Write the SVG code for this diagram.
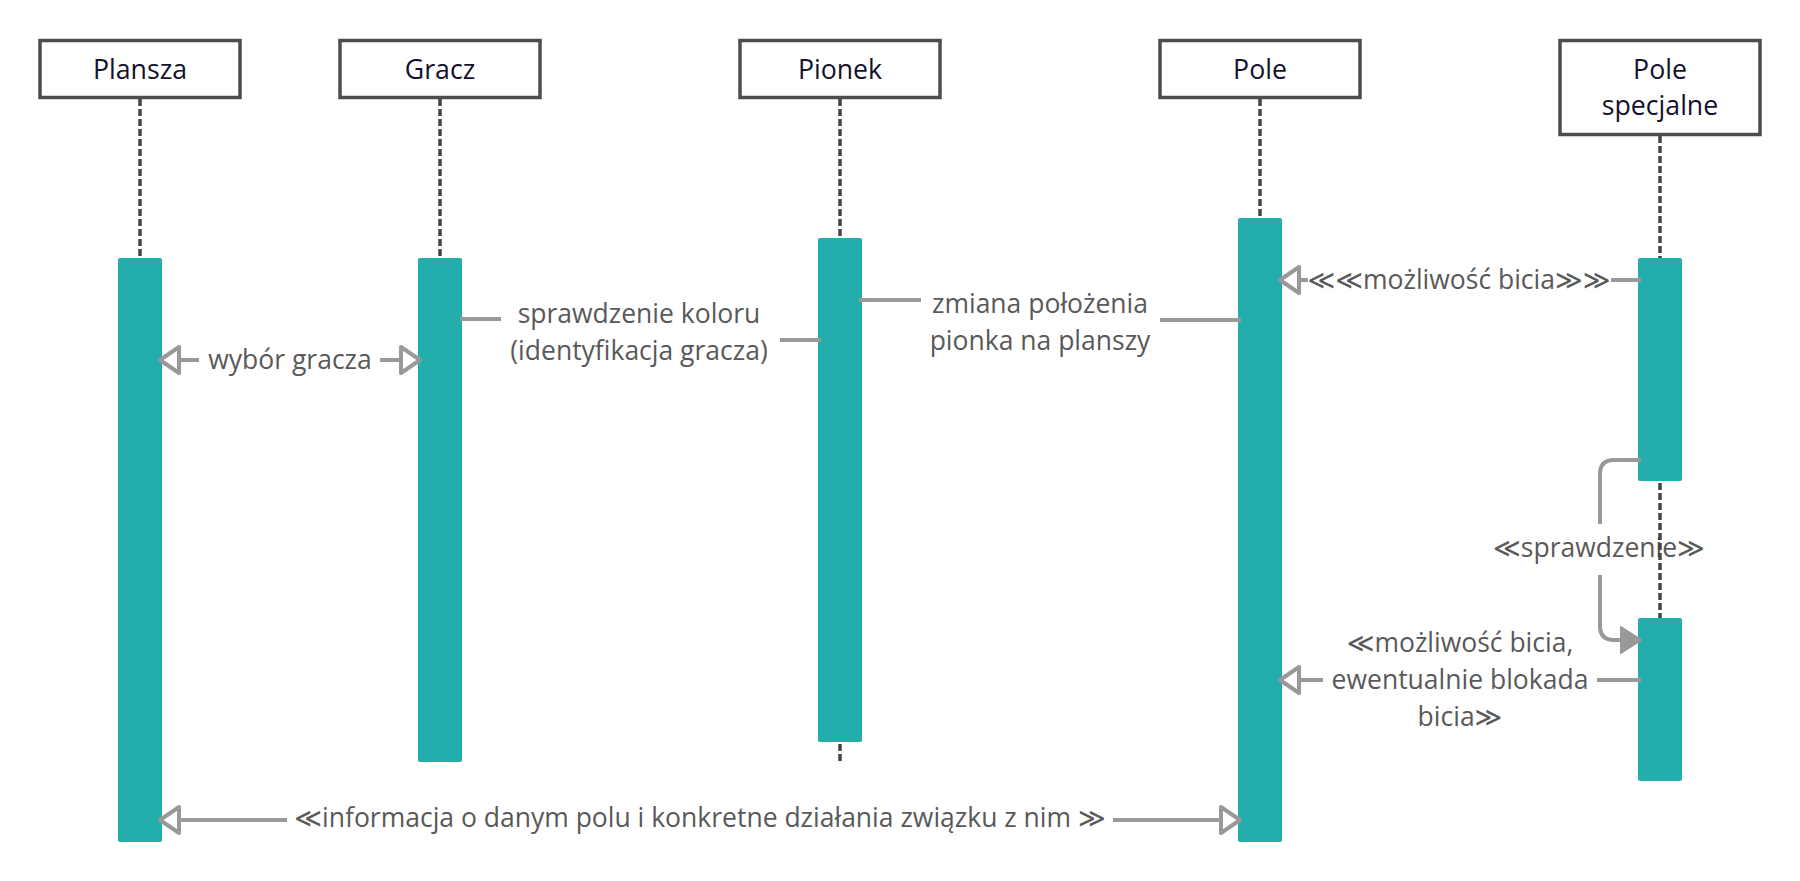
<svg xmlns="http://www.w3.org/2000/svg" width="1800" height="881" viewBox="0 0 1800 881">
  <style>
    .box { fill: #ffffff; stroke: #4d4d4d; stroke-width: 3.5; }
    .life { stroke: #454545; stroke-width: 3.5; stroke-dasharray: 7 3; fill: none; }
    .bar { fill: #23aeac; }
    .ntext { font-family: "Open Sans", "Liberation Sans", sans-serif; font-size: 26.7px; fill: #12122c; text-anchor: middle; }
    .ltext { font-family: "Open Sans", "DejaVu Sans", sans-serif; font-size: 26.5px; fill: #595959; text-anchor: middle; }
    .conn { stroke: #999999; stroke-width: 4; fill: none; stroke-linejoin: round; }
  </style>
  <defs>
    <marker id="hollow" viewBox="-4 -17 27 34" refX="19" refY="0" markerWidth="27" markerHeight="34" markerUnits="userSpaceOnUse" orient="auto">
      <path d="M0,-13 L19,0 L0,13 Z" fill="#ffffff" stroke="#999999" stroke-width="4" stroke-linejoin="round"/>
    </marker>
    <marker id="filled" viewBox="-4 -17 27 34" refX="20" refY="0" markerWidth="27" markerHeight="34" markerUnits="userSpaceOnUse" orient="auto">
      <path d="M0,-13 L20,0 L0,13 Z" fill="#999999" stroke="#999999" stroke-width="2" stroke-linejoin="round"/>
    </marker>
  </defs>
  <rect width="1800" height="881" fill="#ffffff"/>

  <g id="plansza">
    <rect class="box" x="40" y="40.5" width="200" height="57"/>
    <text class="ntext" x="140" y="78.5">Plansza</text>
    <line class="life" x1="140" y1="99" x2="140" y2="258"/>
    <rect class="bar" x="118" y="258" width="44" height="584" rx="2"/>
  </g>

  <g id="gracz">
    <rect class="box" x="340" y="40.5" width="200" height="57"/>
    <text class="ntext" x="440" y="78.5">Gracz</text>
    <line class="life" x1="440" y1="99" x2="440" y2="258"/>
    <rect class="bar" x="418" y="258" width="44" height="504" rx="2"/>
  </g>

  <g id="pionek">
    <rect class="box" x="740" y="40.5" width="200" height="57"/>
    <text class="ntext" x="840" y="78.5">Pionek</text>
    <line class="life" x1="840" y1="99" x2="840" y2="238"/>
    <line class="life" x1="840" y1="744" x2="840" y2="762"/>
    <rect class="bar" x="818" y="238" width="44" height="504" rx="2"/>
  </g>

  <g id="pole">
    <rect class="box" x="1160" y="40.5" width="200" height="57"/>
    <text class="ntext" x="1260" y="78.5">Pole</text>
    <line class="life" x1="1260" y1="99" x2="1260" y2="218"/>
    <rect class="bar" x="1238" y="218" width="44" height="624" rx="2"/>
  </g>

  <g id="pole-specjalne">
    <rect class="box" x="1560" y="40.5" width="200" height="94"/>
    <text class="ntext" x="1660" y="78.5">Pole</text>
    <text class="ntext" x="1660" y="114.5">specjalne</text>
    <line class="life" x1="1660" y1="136" x2="1660" y2="258"/>
    <rect class="bar" x="1638" y="258" width="44" height="223" rx="2"/>
    <rect class="bar" x="1638" y="618" width="44" height="163" rx="2"/>
  </g>

  <g id="connectors">
    <g id="c-wybor">
      <path class="conn" d="M199,360 H160" marker-end="url(#hollow)"/>
      <path class="conn" d="M380,360 H420" marker-end="url(#hollow)"/>
      <text class="ltext" x="290" y="369">wybór gracza</text>
    </g>
    <g id="c-sprawdzenie-koloru">
      <path class="conn" d="M460,319 H501"/>
      <path class="conn" d="M780,340 H821"/>
      <text class="ltext" x="639" y="323">sprawdzenie koloru</text>
      <text class="ltext" x="639" y="360">(identyfikacja gracza)</text>
    </g>
    <g id="c-zmiana">
      <path class="conn" d="M859,300 H921"/>
      <path class="conn" d="M1160,320 H1241"/>
      <text class="ltext" x="1040" y="313">zmiana położenia</text>
      <text class="ltext" x="1040" y="350">pionka na planszy</text>
    </g>
    <g id="c-mozliwosc">
      <path class="conn" d="M1641,280 H1611"/>
      <path class="conn" d="M1308,280 H1280" marker-end="url(#hollow)"/>
      <text class="ltext" x="1459" y="289">≪≪możliwość bicia≫≫</text>
    </g>
    <g id="c-sprawdzenie">
      <path class="conn" d="M1641,460 H1614 Q1600,460 1600,474 V524"/>
      <path class="conn" d="M1600,575 V626 Q1600,640 1614,640 H1641" marker-end="url(#filled)"/>
      <text class="ltext" x="1599" y="557">≪sprawdzenie≫</text>
    </g>
    <g id="c-blokada">
      <path class="conn" d="M1641,680 H1597"/>
      <path class="conn" d="M1323,680 H1280" marker-end="url(#hollow)"/>
      <text class="ltext" x="1460" y="652">≪możliwość bicia,</text>
      <text class="ltext" x="1460" y="689">ewentualnie blokada</text>
      <text class="ltext" x="1460" y="726">bicia≫</text>
    </g>
    <g id="c-informacja">
      <path class="conn" d="M287,820 H160" marker-end="url(#hollow)"/>
      <path class="conn" d="M1113,820 H1240" marker-end="url(#hollow)"/>
      <text class="ltext" x="700" y="827">≪informacja o danym polu i konkretne działania związku z nim ≫</text>
    </g>
  </g>
  <line class="life" x1="1660" y1="483" x2="1660" y2="618"/>
</svg>
